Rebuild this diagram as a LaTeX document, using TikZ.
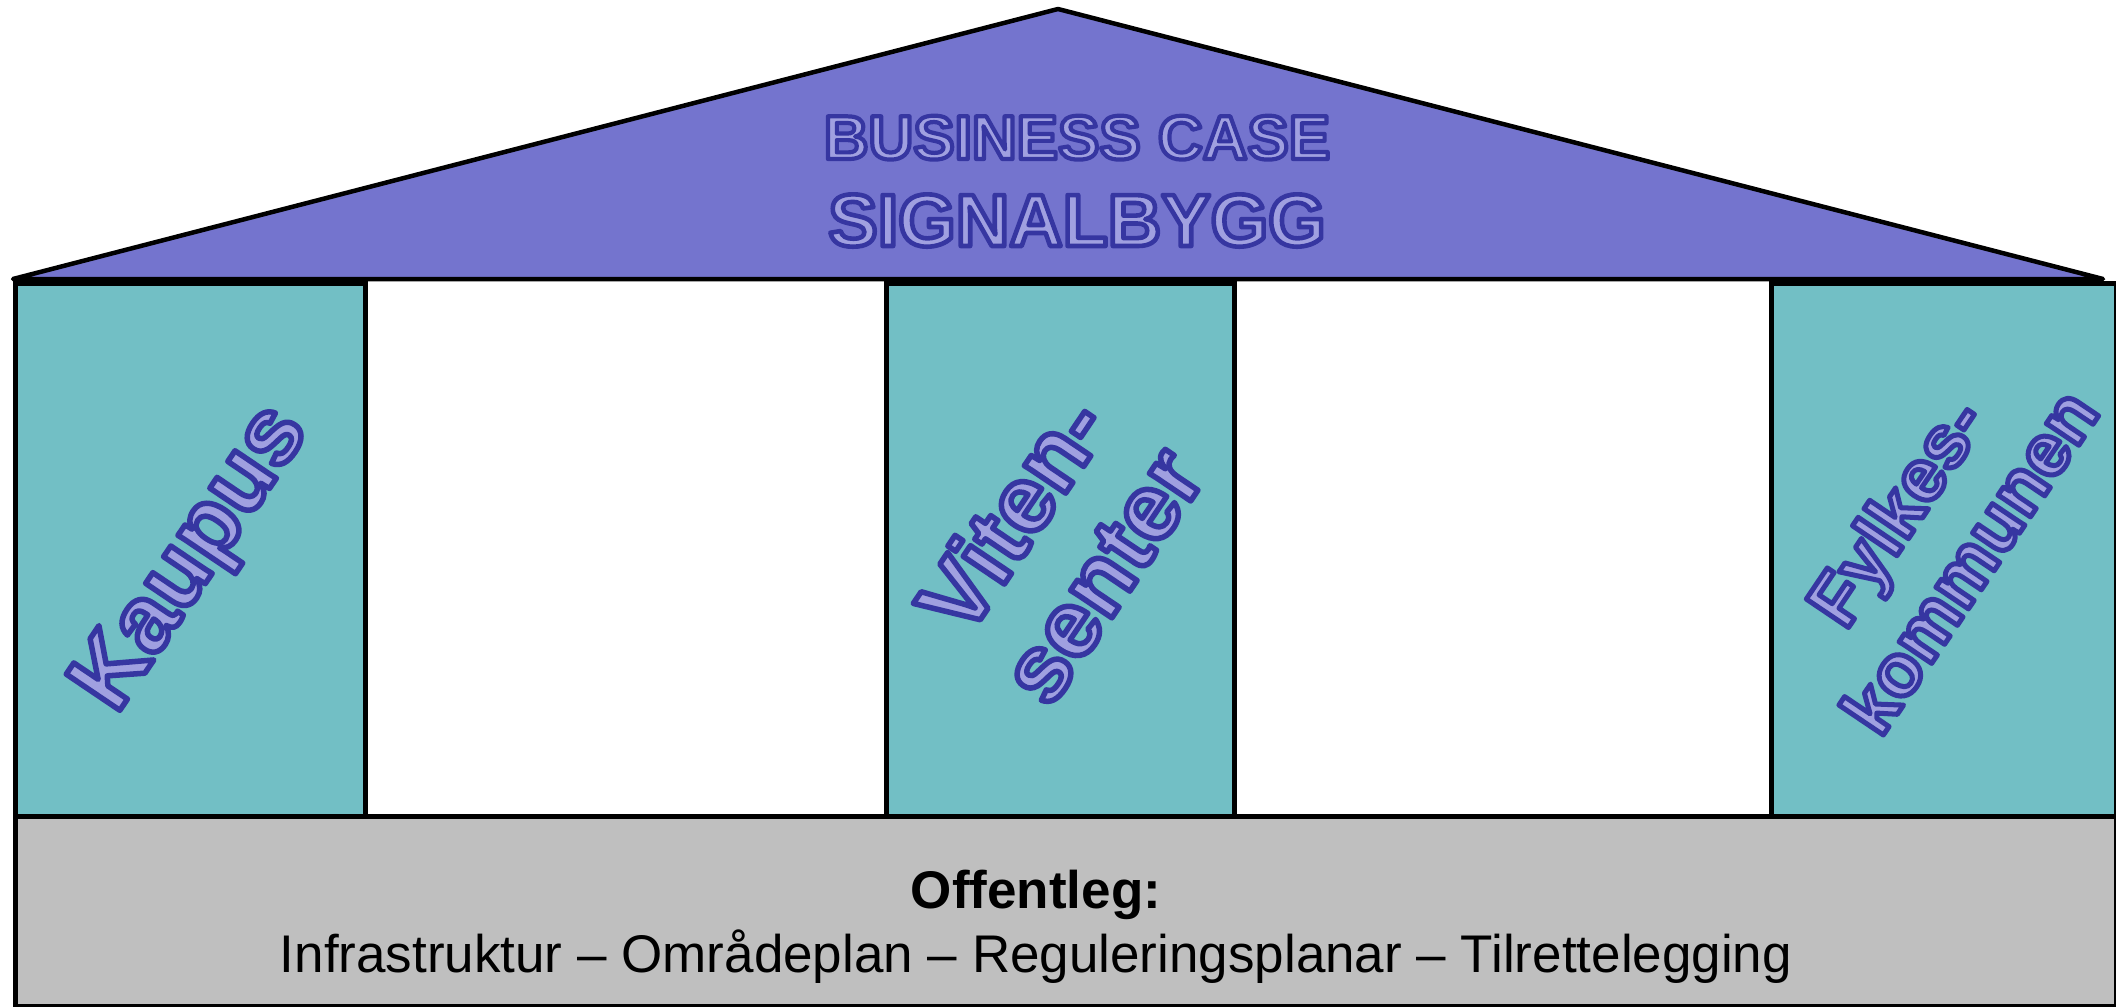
\documentclass[tikz,border=0pt]{standalone}
\usepackage{fontspec}
\setmainfont{Liberation Sans}
\definecolor{roofc}{HTML}{7474CE}
\definecolor{pillarc}{HTML}{72BFC5}
\definecolor{basec}{HTML}{BFBFBF}
\definecolor{labc}{HTML}{A0A0E0}
\newcommand\olt[2][5.5]{\special{pdf:literal direct 2 Tr #1 w 1 j 0.21 0.21 0.63 RG}#2\special{pdf:literal direct 0 Tr}}
\tikzset{
  pillar/.style={draw=black, line width=4.5pt, fill=pillarc, anchor=north west, inner sep=0pt, minimum height=533pt},
  basebox/.style={draw=black, line width=4.5pt, fill=basec, anchor=north west, inner sep=0pt},
  roofstyle/.style={draw=black, line width=4.5pt, fill=roofc, line join=round},
  lab/.style={text=labc, font=\bfseries\fontsize{94}{108}\selectfont, align=center, inner sep=0pt, rotate=56},
  rooftext/.style={text=labc, inner sep=0pt, anchor=base},
  basetext/.style={text=black, inner sep=0pt, anchor=base},
}
\begin{document}
\begin{tikzpicture}[x=1pt,y=-1pt]
\useasboundingbox (0,0) rectangle (2116,1006);
% pillars
\node[pillar, minimum width=350pt] (p1) at (13,281) {};
\node[pillar, minimum width=348pt] (p2) at (884,281) {};
\node[pillar, minimum width=345pt] (p3) at (1769,281) {};
% base
\node[basebox, minimum width=2101pt, minimum height=190pt] (base) at (13,814) {};
% roof
\coordinate (rl) at (13,279);
\coordinate (ra) at (1058,9);
\coordinate (rr) at (2103,279);
\draw[roofstyle] (rl) -- (ra) -- (rr) -- cycle;
% roof texts
\node[rooftext, font=\bfseries\fontsize{62}{70}\selectfont] (t1) at (1077,159) {\olt[4.2]{BUSINESS CASE}};
\node[rooftext, font=\bfseries\fontsize{74}{80}\selectfont] (t2) at (1077,246) {\olt[4.6]{SIGNALBYGG}};
% pillar labels
\node[lab] (l1) at (194,560) {\olt{Kaupus}};
\node[lab] (l2) at (1056,544) {\olt{Viten-\\senter}};
\node[lab, font=\bfseries\fontsize{74}{89}\selectfont] (l3) at (1932,536) {\olt[5]{Fylkes-\\kommunen}};
% base texts
\node[basetext, font=\bfseries\fontsize{53}{60}\selectfont] (b1) at (1036,908) {Offentleg:};
\node[basetext, font=\fontsize{53}{60}\selectfont] (b2) at (1036,972) {Infrastruktur – Områdeplan – Reguleringsplanar – Tilrettelegging};
\end{tikzpicture}
\end{document}
